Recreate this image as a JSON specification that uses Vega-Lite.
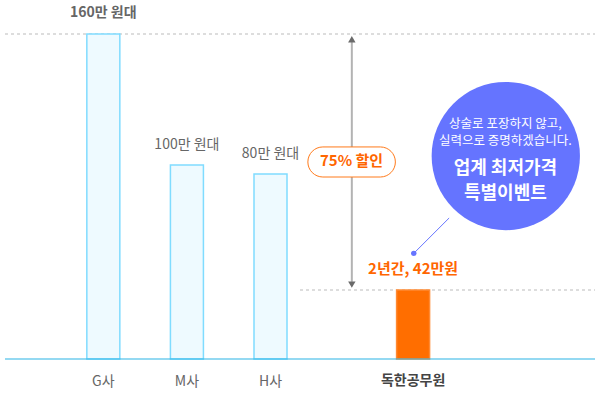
{
  "$schema": "https://vega.github.io/schema/vega-lite/v6.json",
  "width": 600,
  "height": 393,
  "padding": 0,
  "autosize": {"type": "none"},
  "background": "white",
  "config": {"view": {"stroke": null}, "font": "Noto Sans CJK KR"},
  "encoding": {
    "x": {"field": "x", "type": "quantitative", "scale": {"domain": [-0.17647, 6.88235], "nice": false, "zero": false}, "axis": null},
    "y": {"field": "y", "type": "quantitative", "scale": {"domain": [-16.74, 176.74], "nice": false, "zero": false}, "axis": null}
  },
  "layer": [
    {
      "data": {"values": [{"x": -0.17647, "x2": 6.88235, "y": 160}, {"x": 3.353, "x2": 6.88235, "y": 34}]},
      "mark": {"type": "rule", "color": "#d2d2d2", "strokeWidth": 1.5, "strokeDash": [3, 3]},
      "encoding": {"x2": {"field": "x2"}}
    },
    {
      "data": {"values": [
        {"cat": "G사", "x": 1, "y": 160},
        {"cat": "M사", "x": 2, "y": 95.5},
        {"cat": "H사", "x": 3, "y": 91.1},
        {"cat": "독한공무원", "x": 4.706, "y": 34}
      ]},
      "mark": {"type": "bar", "size": 33, "strokeWidth": 1.5},
      "encoding": {
        "y2": {"datum": 0},
        "fill": {"field": "cat", "type": "nominal", "legend": null, "scale": {"domain": ["G사", "M사", "H사", "독한공무원"], "range": ["#eefaff", "#eefaff", "#eefaff", "#ff6e00"]}},
        "stroke": {"field": "cat", "type": "nominal", "legend": null, "scale": {"domain": ["G사", "M사", "H사", "독한공무원"], "range": ["#80dcff", "#80dcff", "#80dcff", "#ff8a33"]}}
      }
    },
    {
      "data": {"values": [{"x": -0.17647, "x2": 6.88235, "y": 0}]},
      "mark": {"type": "rule", "color": "#2ab4e5", "strokeWidth": 1.2},
      "encoding": {"x2": {"field": "x2"}}
    },
    {
      "data": {"values": [{"x": 3.973, "y": 156, "y2": 38}]},
      "mark": {"type": "rule", "color": "#b3b3b3", "strokeWidth": 2},
      "encoding": {"y2": {"field": "y2"}}
    },
    {
      "data": {"values": [{"x": 3.973, "y": 157.4, "shape": "triangle-up"}, {"x": 3.973, "y": 36.6, "shape": "triangle-down"}]},
      "mark": {"type": "point", "filled": true, "opacity": 1, "color": "#6a6a6a", "size": 55},
      "encoding": {"shape": {"field": "shape", "type": "nominal", "scale": null}}
    },
    {
      "data": {"values": [{"x": 3.447, "x2": 4.494, "y": 104.4, "y2": 89.6}]},
      "mark": {"type": "rect", "fill": "white", "stroke": "#ff7a1a", "strokeWidth": 1, "cornerRadius": 15},
      "encoding": {"x2": {"field": "x2"}, "y2": {"field": "y2"}}
    },
    {
      "data": {"values": [{"label": "75% 할인", "x": 3.97, "y": 97.5}, {"label": "2년간, 42만원", "x": 4.706, "y": 44.1}]},
      "mark": {"type": "text", "color": "#ff6600", "fontSize": 15, "fontWeight": "bold", "baseline": "middle", "align": "center"},
      "encoding": {"text": {"field": "label"}}
    },
    {
      "data": {"values": [{"x": 5.137, "y": 69.4, "x2": 4.714, "y2": 52}]},
      "mark": {"type": "rule", "color": "#6675ff", "strokeWidth": 1},
      "encoding": {"x2": {"field": "x2"}, "y2": {"field": "y2"}}
    },
    {
      "data": {"values": [{"x": 4.714, "y": 52, "r": "dot"}]},
      "mark": {"type": "point", "shape": "circle", "filled": true, "opacity": 1, "color": "#6675ff", "size": 30}
    },
    {
      "data": {"values": [{"x": 5.815, "y": 99.9, "r": "circle"}]},
      "mark": {"type": "point", "shape": "circle", "filled": true, "opacity": 1, "color": "#6574ff", "size": 22000}
    },
    {
      "data": {"values": [{"label": "상술로 포장하지 않고,", "x": 5.81, "y": 115.7}, {"label": "실력으로 증명하겠습니다.", "x": 5.81, "y": 107.1}]},
      "mark": {"type": "text", "color": "white", "fontSize": 12.5, "baseline": "middle", "align": "center"},
      "encoding": {"text": {"field": "label"}}
    },
    {
      "data": {"values": [{"label": "업계 최저가격", "x": 5.81, "y": 93.7}, {"label": "특별이벤트", "x": 5.81, "y": 81.2}]},
      "mark": {"type": "text", "color": "white", "fontSize": 18, "fontWeight": "bold", "baseline": "middle", "align": "center"},
      "encoding": {"text": {"field": "label"}}
    },
    {
      "data": {"values": [{"label": "160만 원대", "x": 1, "y": 170.1}]},
      "mark": {"type": "text", "color": "#666666", "fontSize": 14, "fontWeight": "bold", "baseline": "middle", "align": "center"},
      "encoding": {"text": {"field": "label"}}
    },
    {
      "data": {"values": [
        {"label": "100만 원대", "x": 2, "y": 105.35},
        {"label": "80만 원대", "x": 3, "y": 100.9},
        {"label": "G사", "x": 1, "y": -11.4},
        {"label": "M사", "x": 2, "y": -11.4},
        {"label": "H사", "x": 3, "y": -11.4}
      ]},
      "mark": {"type": "text", "color": "#666666", "fontSize": 14, "baseline": "middle", "align": "center"},
      "encoding": {"text": {"field": "label"}}
    },
    {
      "data": {"values": [{"label": "독한공무원", "x": 4.706, "y": -11.0}]},
      "mark": {"type": "text", "color": "#444444", "fontSize": 14, "fontWeight": "bold", "baseline": "middle", "align": "center"},
      "encoding": {"text": {"field": "label"}}
    }
  ]
}
